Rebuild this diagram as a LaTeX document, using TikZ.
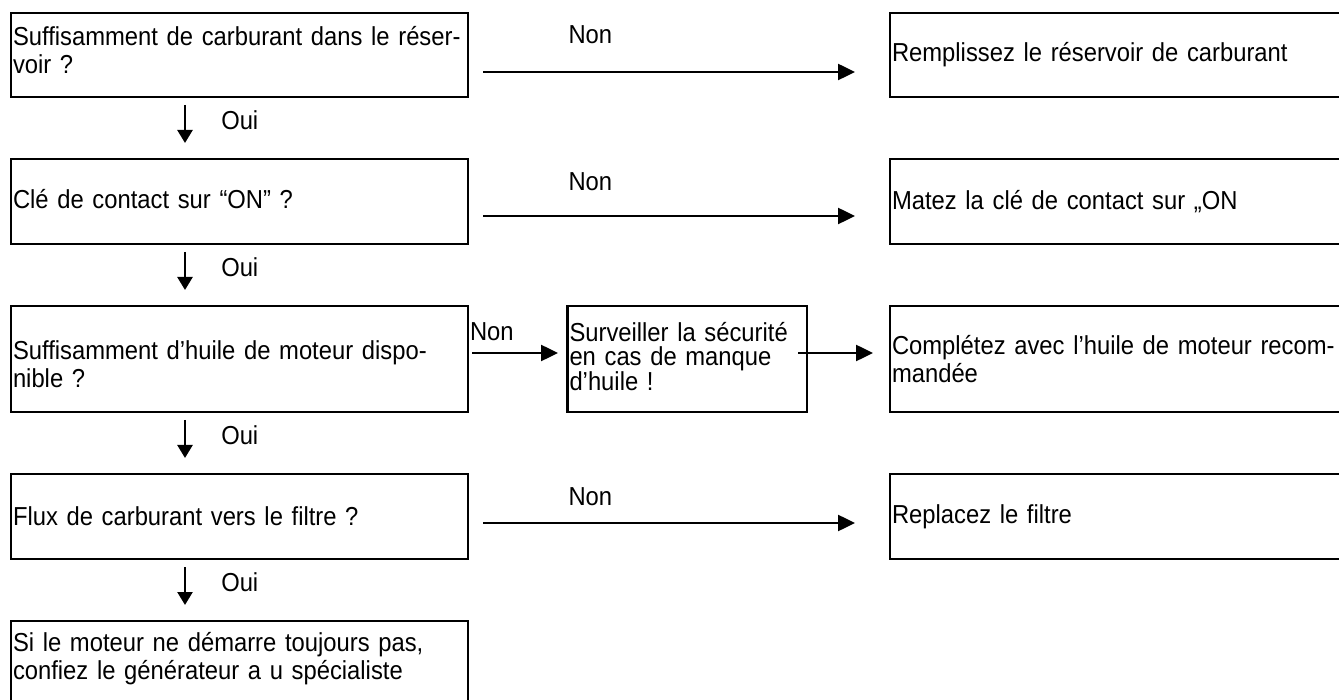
\documentclass[tikz,border=0pt]{standalone}
\usepackage{fontspec}
\setmainfont{Liberation Sans}[FakeStretch=0.915, WordSpace=0.915]
\usetikzlibrary{arrows.meta, positioning}

\begin{document}
\begin{tikzpicture}[
    x=1pt, y=-1pt,
    font=\fontsize{26}{28}\selectfont,
    node distance=62pt and 422pt,
    question/.style={draw, line width=2.5pt, outer sep=0pt, inner xsep=2pt, inner ysep=0pt, text width=453pt, align=left},
    answer/.style={question},
    warnbox/.style={draw, line width=2.5pt, outer sep=0pt, inner xsep=2pt, inner ysep=0pt, text width=235.5pt, minimum height=106pt, align=left, text depth=55pt, font=\fontsize{26}{24}\selectfont},
    nonarrow/.style={-{Triangle[length=17pt, width=16pt]}, line width=2.5pt, shorten <=15pt, shorten >=35pt},
    ouiarrow/.style={-{Triangle[length=13pt, width=15pt]}, line width=2.5pt, shorten <=8pt, shorten >=16pt},
    lbl/.style={inner sep=0pt}
]
\useasboundingbox (0,0) rectangle (1339,700);
\clip (0,0) rectangle (1339,700);

\node[question, minimum height=84pt, text depth=39pt, anchor=north west] (q1) at (11,13) {Suffisamment de carburant dans le réser-\\voir ?};
\node[question, minimum height=85pt, text depth=6pt, below=of q1] (q2) {Clé de contact sur “ON” ?};
\node[question, minimum height=106pt, text depth=18pt, below=of q2] (q3) {Suffisamment d’huile de moteur dispo-\\nible ?};
\node[question, minimum height=85pt, below=of q3] (q4) {Flux de carburant vers le filtre ?};
\node[question, minimum height=84pt, text depth=43pt, below=of q4] (q5) {Si le moteur ne démarre toujours pas,\\confiez le générateur a u spécialiste};

\node[answer, minimum height=84pt, right=of q1] (a1) {Remplissez le réservoir de carburant};
\node[answer, minimum height=85pt, right=of q2] (a2) {Matez la clé de contact sur „ON};
\node[warnbox, right=99.5pt of q3] (w3) {\lineskiplimit=-50pt Surveiller la sécurité\\en cas de manque\\d’huile !};
\node[answer, minimum height=106pt, right=83pt of w3] (a3) {Complétez avec l’huile de moteur recom-\\mandée};
\node[answer, minimum height=85pt, right=of q4] (a4) {Replacez le filtre};

\draw[nonarrow] ([yshift=-17pt]q1.east) -- ([yshift=-17pt]a1.west) node[lbl, pos=.29, yshift=37pt] {Non};
\draw[nonarrow] ([yshift=-14.5pt]q2.east) -- ([yshift=-14.5pt]a2.west) node[lbl, pos=.29, yshift=34pt] {Non};
\draw[nonarrow, shorten <=4pt, shorten >=9.5pt] ([yshift=6pt]q3.east) -- ([yshift=6pt]w3.west) node[lbl, pos=.24, yshift=21pt] {Non};
\draw[nonarrow, shorten <=-9pt, shorten >=17pt] ([yshift=6pt]w3.east) -- ([yshift=6pt]a3.west);
\draw[nonarrow] ([yshift=-6.5pt]q4.east) -- ([yshift=-6.5pt]a4.west) node[lbl, pos=.29, yshift=26pt] {Non};

\draw[ouiarrow] ([xshift=174pt]q1.south west) -- ([xshift=174pt]q2.north west) node[lbl, pos=.38, right=35pt] {Oui};
\draw[ouiarrow] ([xshift=174pt]q2.south west) -- ([xshift=174pt]q3.north west) node[lbl, pos=.38, right=35pt] {Oui};
\draw[ouiarrow] ([xshift=174pt]q3.south west) -- ([xshift=174pt]q4.north west) node[lbl, pos=.38, right=35pt] {Oui};
\draw[ouiarrow] ([xshift=174pt]q4.south west) -- ([xshift=174pt]q5.north west) node[lbl, pos=.38, right=35pt] {Oui};

\end{tikzpicture}
\end{document}
